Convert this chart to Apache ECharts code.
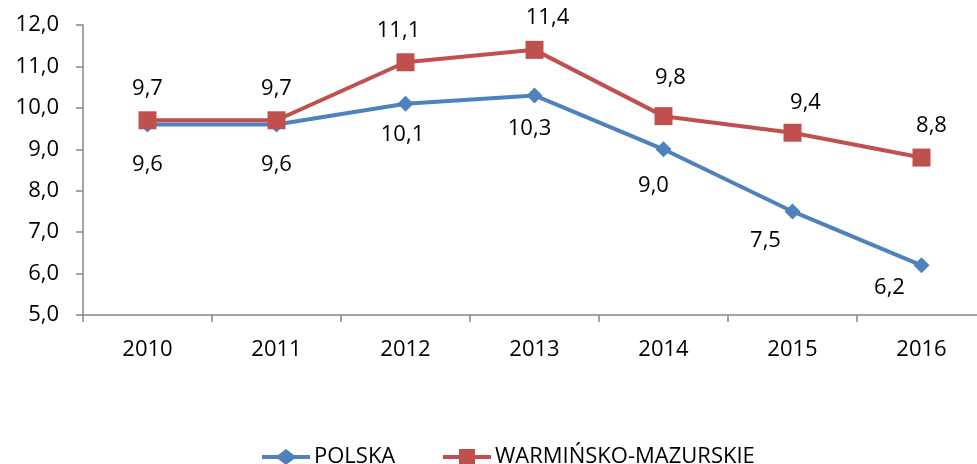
<!DOCTYPE html>
<html>
<head>
<meta charset="utf-8">
<script src="https://cdn.jsdelivr.net/npm/echarts@6/dist/echarts.min.js"></script>
<style>
  html, body { margin: 0; padding: 0; background: #fff; }
  #chart { width: 977px; height: 464px; }
</style>
</head>
<body>
<div id="chart"></div>
<script>
const years = ['2010', '2011', '2012', '2013', '2014', '2015', '2016']
const polska = [9.6, 9.6, 10.1, 10.3, 9.0, 7.5, 6.2]
const warmMaz = [9.7, 9.7, 11.1, 11.4, 9.8, 9.4, 8.8]

// label nudges, to mimic where the original placed them
const polskaLabelShift = [[0, 9], [0, 9], [-3, 0], [-5, 2], [-10, 5], [-27, -2], [-32, -9]]
const warmMazLabelShift = [[0, 0], [0, 0], [-7, 0], [13, 0], [7, -6], [13, 2], [10, 0]]

const FONT = '"Open Sans", "Noto Sans", sans-serif'
const fmt = v => Number(v).toFixed(1).replace('.', ',')

const withShift = (vals, shifts) => vals.map((v, i) => ({ value: v, label: { offset: shifts[i] } }))

// legend icons: thick line with the marker in the middle
const diamondIcon = 'path://M0,6L16,6L24,0L32,6L48,6L48,10L32,10L24,16L16,10L0,10Z'
const squareIcon = 'path://M0,6L16,6L16,0L32,0L32,6L48,6L48,10L32,10L32,16L16,16L16,10L0,10Z'

const legendBase = {
  bottom: -4,
  padding: 0,
  itemWidth: 48,
  itemHeight: 16,
  textStyle: { fontFamily: FONT, fontSize: 22, color: '#000', padding: [0, 0, 0, -1] }
}

const chart = echarts.init(document.getElementById('chart'))
chart.setOption({
  animation: false,
  grid: { left: 83, right: -9, top: 25, bottom: 149, outerBoundsMode: 'none' },
  legend: [
    { ...legendBase, left: 262, data: [{ name: 'POLSKA', icon: diamondIcon }] },
    { ...legendBase, left: 443, data: [{ name: 'WARMIŃSKO-MAZURSKIE', icon: squareIcon }] }
  ],
  xAxis: {
    type: 'category',
    data: years,
    boundaryGap: true,
    axisLine: { lineStyle: { color: '#868686', width: 1.5 } },
    axisTick: { show: true, length: 7, lineStyle: { color: '#868686', width: 1.5 } },
    axisLabel: { fontFamily: FONT, fontSize: 22, color: '#000', margin: 24 }
  },
  yAxis: {
    type: 'value',
    min: 5,
    max: 12,
    interval: 1,
    splitLine: { show: false },
    axisLine: { show: true, lineStyle: { color: '#868686', width: 1.5 } },
    axisTick: { show: true, length: 7, lineStyle: { color: '#868686', width: 1.5 } },
    axisLabel: { fontFamily: FONT, fontSize: 22, color: '#000', margin: 24, formatter: fmt }
  },
  series: [
    {
      name: 'POLSKA',
      type: 'line',
      data: withShift(polska, polskaLabelShift),
      symbol: 'diamond',
      symbolSize: 16,
      z: 2,
      lineStyle: { color: '#4F81BD', width: 4 },
      itemStyle: { color: '#4F81BD' },
      label: {
        show: true,
        position: 'bottom',
        distance: 12,
        fontFamily: FONT,
        fontSize: 22,
        color: '#000',
        formatter: p => fmt(p.value)
      }
    },
    {
      name: 'WARMIŃSKO-MAZURSKIE',
      type: 'line',
      data: withShift(warmMaz, warmMazLabelShift),
      symbol: 'rect',
      symbolSize: 18,
      z: 3,
      lineStyle: { color: '#C0504D', width: 4 },
      itemStyle: { color: '#C0504D' },
      label: {
        show: true,
        position: 'top',
        distance: 12,
        fontFamily: FONT,
        fontSize: 22,
        color: '#000',
        formatter: p => fmt(p.value)
      }
    }
  ]
})
</script>
</body>
</html>
